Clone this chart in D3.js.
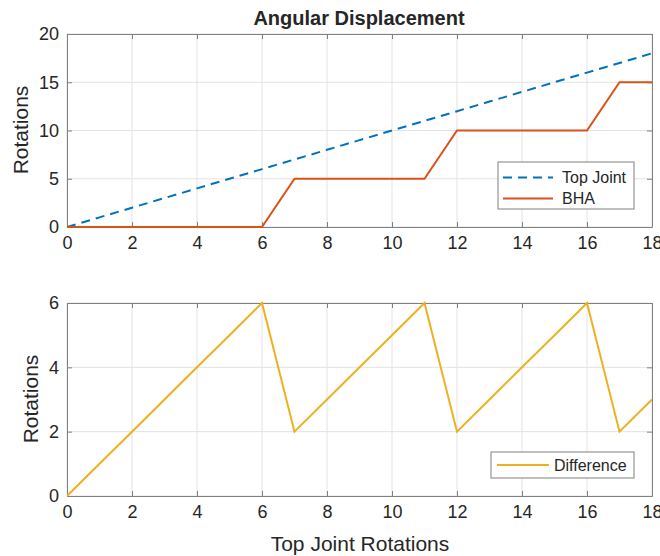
<!DOCTYPE html>
<html><head><meta charset="utf-8">
<script src="https://cdn.jsdelivr.net/npm/d3@7"></script>
<style>body{margin:0;background:#fff}svg{display:block}text{font-family:"Liberation Sans",Arial,sans-serif;fill:#262626}</style>
</head><body><svg id="c" width="660" height="556"></svg>
<script>
const xs = [0,1,2,3,4,5,6,7,8,9,10,11,12,13,14,15,16,17,18];
const topJoint = [0,1,2,3,4,5,6,7,8,9,10,11,12,13,14,15,16,17,18];
const bha = [0,0,0,0,0,0,0,5,5,5,5,5,10,10,10,10,10,15,15];
const difference = [0,1,2,3,4,5,6,2,3,4,5,6,2,3,4,5,6,2,3];
const xTicks = [0,2,4,6,8,10,12,14,16,18];
const yTicksTop = [0,5,10,15,20];
const yTicksBot = [0,2,4,6];
const colors = {top:"#0072BD", bha:"#D95319", diff:"#EDB120"};

const svg = d3.select("#c");
const L = 67, R = 652;
const x = d3.scaleLinear().domain([0,18]).range([L,R]);
const fmt = d3.format("d");

function panel(y0, y1, ydom, yt, series, legend) {
  const y = d3.scaleLinear().domain(ydom).range([y1,y0]);
  const g = svg.append("g");
  g.selectAll(".gx").data(xTicks).join("line").attr("x1",d=>x(d)).attr("x2",d=>x(d)).attr("y1",y0).attr("y2",y1).attr("stroke","#e3e3e3").attr("stroke-width",1);
  g.selectAll(".gy").data(yt).join("line").attr("y1",d=>y(d)).attr("y2",d=>y(d)).attr("x1",L).attr("x2",R).attr("stroke","#e3e3e3").attr("stroke-width",1);
  const ax = g.append("g").attr("transform",`translate(0,${y1})`).call(d3.axisBottom(x).tickValues(xTicks).tickFormat(fmt).tickSizeInner(-5).tickSizeOuter(0).tickPadding(9));
  const axT = g.append("g").attr("transform",`translate(0,${y0})`).call(d3.axisTop(x).tickValues(xTicks).tickSizeInner(-5).tickSizeOuter(0).tickFormat(""));
  const ay = g.append("g").attr("transform",`translate(${L},0)`).call(d3.axisLeft(y).tickValues(yt).tickFormat(fmt).tickSizeInner(-5).tickSizeOuter(0).tickPadding(8));
  const ayR = g.append("g").attr("transform",`translate(${R},0)`).call(d3.axisRight(y).tickValues(yt).tickSizeInner(-5).tickSizeOuter(0).tickFormat(""));
  [ax,axT,ay,ayR].forEach(a=>{
    a.selectAll("path").attr("stroke","#808080").attr("stroke-width",1);
    a.selectAll("line").attr("stroke","#808080");
    a.selectAll("text").style("font-size","18px").attr("fill","#262626");
  });
  const clip = "clip"+y0;
  svg.append("clipPath").attr("id",clip).append("rect").attr("x",L).attr("y",y0-2).attr("width",R-L).attr("height",y1-y0+4);
  series.forEach(s=>{
    g.append("path").datum(s.v).attr("clip-path",`url(#${clip})`)
      .attr("d",d3.line().x((d,i)=>x(xs[i])).y(d=>y(d)))
      .attr("fill","none").attr("stroke",s.c).attr("stroke-width",2)
      .attr("stroke-dasharray",s.dash||null);
  });
  const lg = g.append("g");
  lg.append("rect").attr("x",legend.x).attr("y",legend.y).attr("width",legend.w).attr("height",legend.h).attr("fill","#fff").attr("stroke","#808080").attr("stroke-width",1);
  series.forEach((s,i)=>{
    const cy = legend.y + legend.pad + i*legend.step;
    lg.append("line").attr("x1",legend.lx1).attr("x2",legend.lx2).attr("y1",cy).attr("y2",cy).attr("stroke",s.c).attr("stroke-width",2).attr("stroke-dasharray",s.dash||null);
    lg.append("text").attr("x",legend.tx).attr("y",cy).attr("dy","0.35em").style("font-size","16px").text(s.name);
  });
  return y;
}

panel(34, 227, [0,20], yTicksTop,
  [{v:topJoint,c:colors.top,dash:"9,6",name:"Top Joint"},{v:bha,c:colors.bha,name:"BHA"}],
  {x:498,y:162,w:136,h:47,pad:15.5,step:21,lx1:503,lx2:553,tx:562});
panel(303, 496, [0,6], yTicksBot,
  [{v:difference,c:colors.diff,name:"Difference"}],
  {x:491,y:452,w:143,h:26,pad:13,step:21,lx1:497,lx2:549,tx:554});

svg.append("text").attr("x",359).attr("y",25).attr("text-anchor","middle").style("font-size","20px").style("font-weight","bold").attr("fill","#000").text("Angular Displacement");
svg.append("text").attr("transform","translate(28,130) rotate(-90)").attr("text-anchor","middle").style("font-size","21px").text("Rotations");
svg.append("text").attr("transform","translate(38,399) rotate(-90)").attr("text-anchor","middle").style("font-size","21px").text("Rotations");
svg.append("text").attr("x",360).attr("y",551).attr("text-anchor","middle").style("font-size","21px").text("Top Joint Rotations");
</script></body></html>
